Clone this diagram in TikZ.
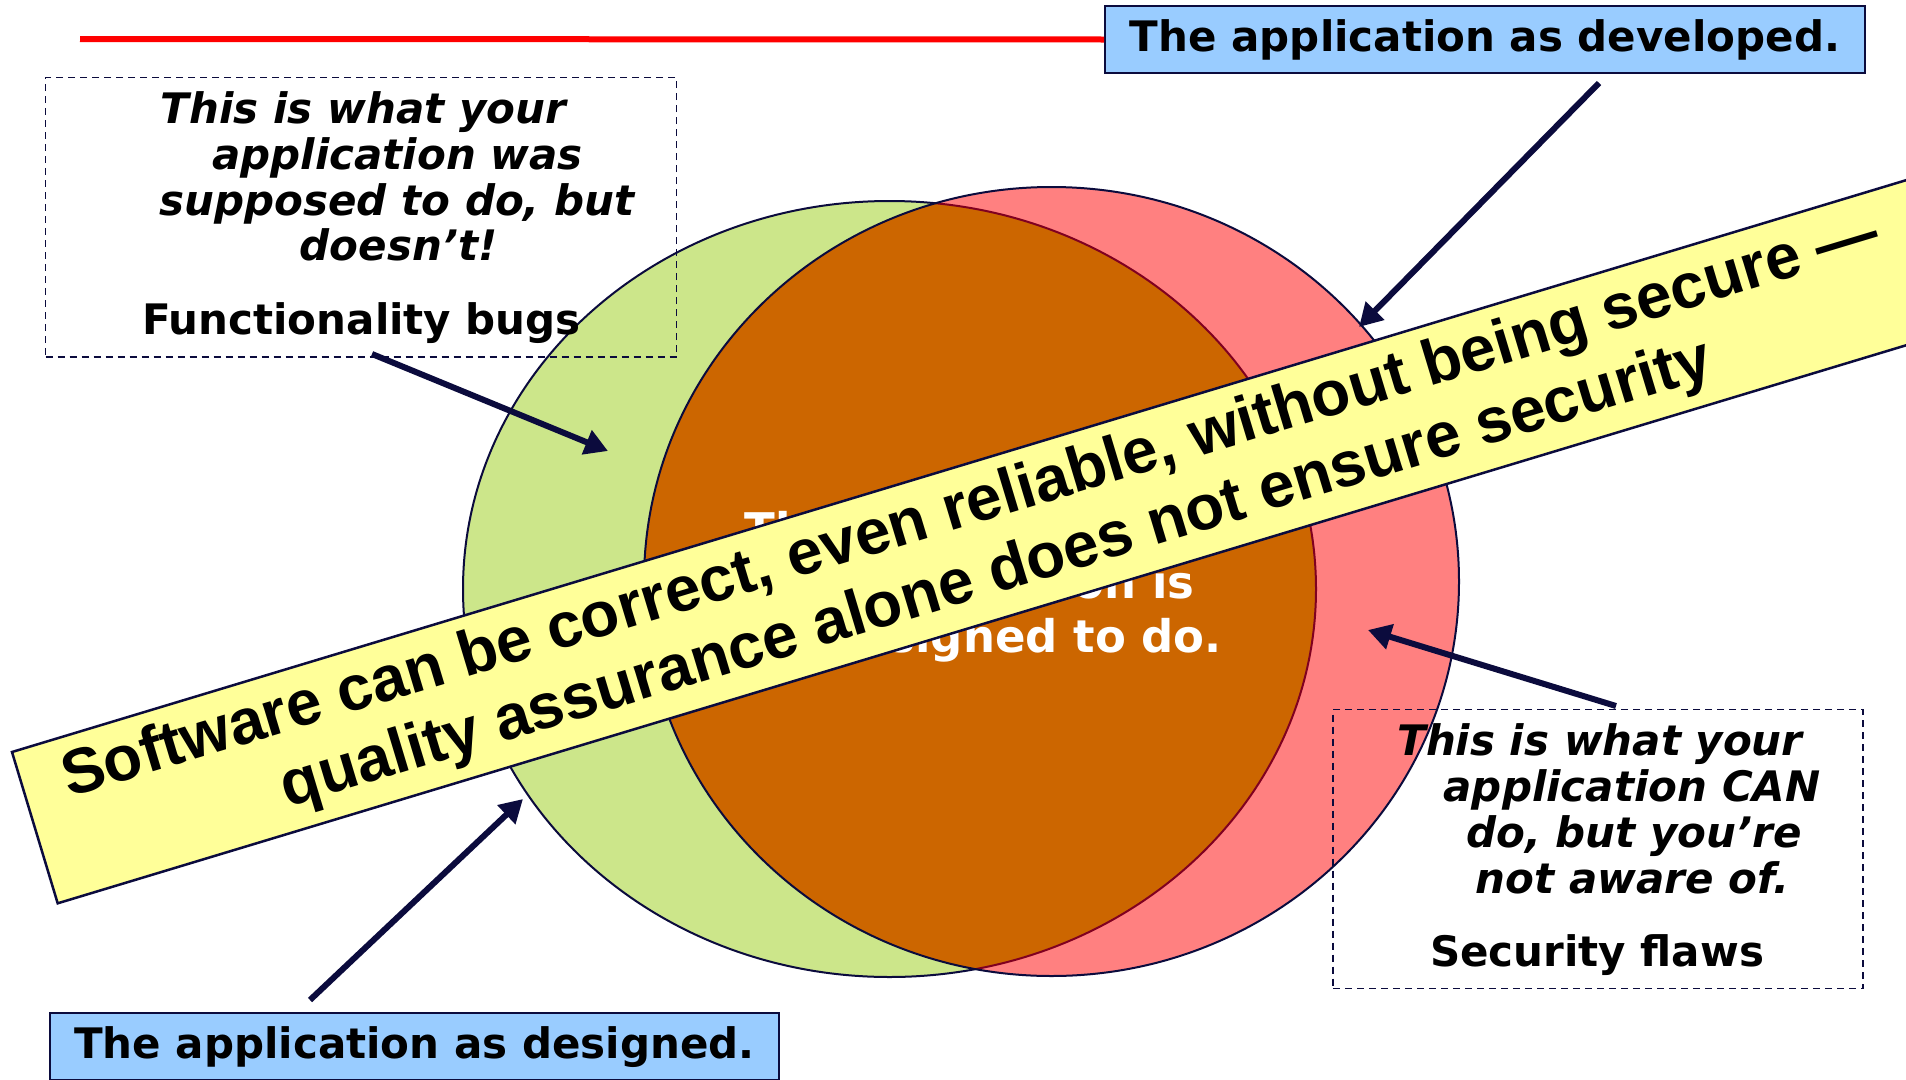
\documentclass[tikz,border=0pt]{standalone}
\usepackage{fontspec}
\setmainfont{DejaVu Sans}[BoldFont={DejaVu Sans Bold},ItalicFont={DejaVu Sans Oblique},BoldItalicFont={DejaVu Sans Bold Oblique}]
\newfontfamily\bannerfont{Liberation Sans}[BoldFont={Liberation Sans Bold}]
\usetikzlibrary{arrows.meta}
\definecolor{navy}{HTML}{0B0B3D}
\definecolor{appgreen}{HTML}{CCE68A}
\definecolor{appred}{HTML}{FF8080}
\definecolor{apporange}{HTML}{CC6600}
\definecolor{bannery}{HTML}{FFFF99}
\definecolor{boxblue}{HTML}{99CCFF}
\definecolor{maroonline}{HTML}{800020}
\definecolor{titlered}{HTML}{FF0000}
\begin{document}
\begin{tikzpicture}[x=1pt,y=-1pt,
  bluebox/.style={draw=navy, line width=2pt, fill=boxblue, minimum height=67pt, inner sep=0pt,
    text height=32pt, text depth=8pt, font=\fontsize{42}{50}\selectfont\bfseries},
  dashbox/.style={draw=navy, line width=1.5pt, dash pattern=on 7pt off 5pt, inner sep=0pt},
  itline/.style={anchor=base, inner sep=0pt, font=\fontsize{42}{50}\selectfont\bfseries\itshape},
  bdline/.style={anchor=base, inner sep=0pt, font=\fontsize{42}{50}\selectfont\bfseries},
  midline/.style={anchor=base, inner sep=0pt, text=white, font=\fontsize{45}{53}\selectfont\bfseries},
  bannerline/.style={anchor=base, inner sep=0pt, rotate=16.8, font=\fontsize{63.6}{72}\bannerfont\bfseries},
  pointer/.style={draw=navy, line width=6pt, -{Triangle[length=23pt,width=25pt]}},
  ringline/.style={line width=2pt}
]
\useasboundingbox (0,0) rectangle (1906,1079);
\clip (0,0) rectangle (1906,1079);
\fill[white] (0,0) rectangle (1906,1079);

% ellipses
\coordinate (gc) at (889.5,589);
\coordinate (rc) at (1051.5,581.5);
\fill[appgreen] (gc) ellipse [x radius=426.5, y radius=388];
\draw[navy, ringline] (gc) ellipse [x radius=426.5, y radius=388];
\fill[appred] (rc) ellipse [x radius=407.5, y radius=394.5];
\begin{scope}
  \clip (gc) ellipse [x radius=426.5, y radius=388];
  \fill[apporange] (rc) ellipse [x radius=407.5, y radius=394.5];
\end{scope}
\begin{scope}
  \clip (rc) ellipse [x radius=407.5, y radius=394.5];
  \draw[maroonline, ringline] (gc) ellipse [x radius=426.5, y radius=388];
\end{scope}
\draw[navy, ringline] (rc) ellipse [x radius=407.5, y radius=394.5];

% centre text
\node[midline] (c1) at (962,545) {This is what your};
\node[midline] (c2) at (1024,598) {application is};
\node[midline] (c3) at (1024,652) {designed to do.};

% title rule and blue boxes
\coordinate (rl) at (80,39);
\node[bluebox, minimum width=760pt] (devbox) at (1485,39.5) {The application as developed.};
\draw[titlered, line width=6pt] (rl) -- (devbox.west);
\node[bluebox, minimum width=729pt] (desbox) at (414.5,1046.5) {The application as designed.};

% dashed boxes
\node[dashbox, minimum width=631pt, minimum height=279.4pt] (fbox) at (361.1,217.3) {};
\node[itline] (f1) at (363.5,123) {This is what your};
\node[itline] (f2) at (397.5,169) {application was};
\node[itline] (f3) at (397,215) {supposed to do, but};
\node[itline] (f4) at (398.5,260) {doesn’t!};
\node[bdline] (f5) at (361.5,334) {Functionality bugs};

\node[dashbox, minimum width=530pt, minimum height=279pt] (sbox) at (1598,849) {};
\node[itline] (s1) at (1600,755) {This is what your};
\node[itline] (s2) at (1632,801) {application CAN};
\node[itline] (s3) at (1634,847.7) {do, but you’re};
\node[itline] (s4) at (1632.6,893) {not aware of.};
\node[bdline] (s5) at (1597,966) {Security flaws};

% arrows
\coordinate (a1s) at (372,354);  \coordinate (a1t) at (608,451);
\coordinate (a2s) at (1616,706); \coordinate (a2t) at (1368,630);
\coordinate (a3s) at (1599,83);  \coordinate (a3t) at (1359,327);
\coordinate (a4s) at (310,1000); \coordinate (a4t) at (523,799);
\draw[pointer] (a1s) -- (a1t);
\draw[pointer] (a2s) -- (a2t);
\draw[pointer] (a3s) -- (a3t);
\draw[pointer] (a4s) -- (a4t);

% banner
\coordinate (bTL) at (12,752);
\coordinate (bTR) at (2022.3,145.1);
\coordinate (bBR) at (2068,296.4);
\coordinate (bBL) at (57.7,903.3);
\draw[navy, line width=2.5pt, fill=bannery, line join=miter] (bTL) -- (bTR) -- (bBR) -- (bBL) -- cycle;
\node[bannerline] (b1) at (976.1,523.6) {Software can be correct, even reliable, without being secure —};
\node[bannerline] (b2) at (1001.9,591.6) {quality assurance alone does not ensure security};
\end{tikzpicture}
\end{document}
